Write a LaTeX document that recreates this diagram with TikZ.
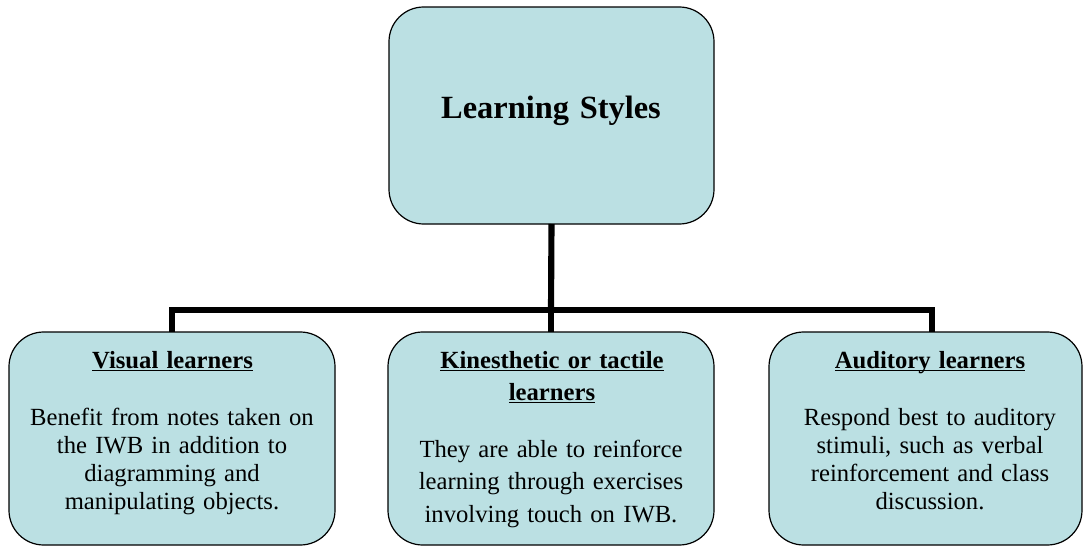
\documentclass[tikz,border=0pt]{standalone}
\usepackage{fontspec}
\setmainfont{Liberation Serif}
\definecolor{boxfill}{RGB}{187,224,227}
\newcommand{\ulx}[1]{\underline{\smash{#1}}}
\tikzset{
  x=0.75pt, y=-0.75pt,
  card/.style={draw=black, line width=0.9pt, fill=boxfill, rounded corners=26pt,
    rectangle, outer sep=0pt, inner sep=0pt},
  conn/.style={draw=black, line width=4.6pt, line join=miter},
  txt/.style={anchor=base, align=center, text width=235pt, inner sep=0pt},
  bodyA/.style={font=\fontsize{18.5}{21}\selectfont},
  bodyB/.style={font=\fontsize{18.5}{24.6}\selectfont},
  head/.style={font=\fontsize{18.5}{24}\selectfont\bfseries},
}
\begin{document}
\begin{tikzpicture}
\useasboundingbox (0,0) rectangle (1083,546);
% boxes
\node[card, minimum width=243.75pt, minimum height=162.75pt] (top) at (551.5,115.5) {};
\node[card, minimum width=244.5pt, minimum height=159.75pt] (L) at (172,438.5) {};
\node[card, minimum width=244.5pt, minimum height=159.75pt] (M) at (551,438.5) {};
\node[card, minimum width=234.75pt, minimum height=159.75pt] (R) at (925.5,438.5) {};
% connectors
\coordinate (bus) at (551,310);
\coordinate (rdrop) at (932,332);
\draw[conn] (top.south) -- (bus);
\draw[conn] (L.north) |- (bus) -| (rdrop);
\draw[conn] (bus) -- (M.north);
% texts
\node[txt, font=\fontsize{24.3}{29}\selectfont\bfseries] (title) at (551,118) {Learning Styles};
\node[txt, head] (Lh) at (172.5,368) {\ulx{Visual learners}};
\node[txt, bodyA] (Lb) at (172,425) {Benefit from notes taken on\\the IWB in addition to\\diagramming and\\manipulating objects.};
\node[txt, head] (Mh) at (552,368) {\ulx{Kinesthetic or tactile}\\\ulx{learners}};
\node[txt, bodyB] (Mb) at (551,457) {They are able to reinforce\\learning through exercises\\involving touch on IWB.};
\node[txt, head] (Rh) at (930,368) {\ulx{Auditory learners}};
\node[txt, bodyA] (Rb) at (930,425) {Respond best to auditory\\stimuli, such as verbal\\reinforcement and class\\discussion.};
\end{tikzpicture}
\end{document}
